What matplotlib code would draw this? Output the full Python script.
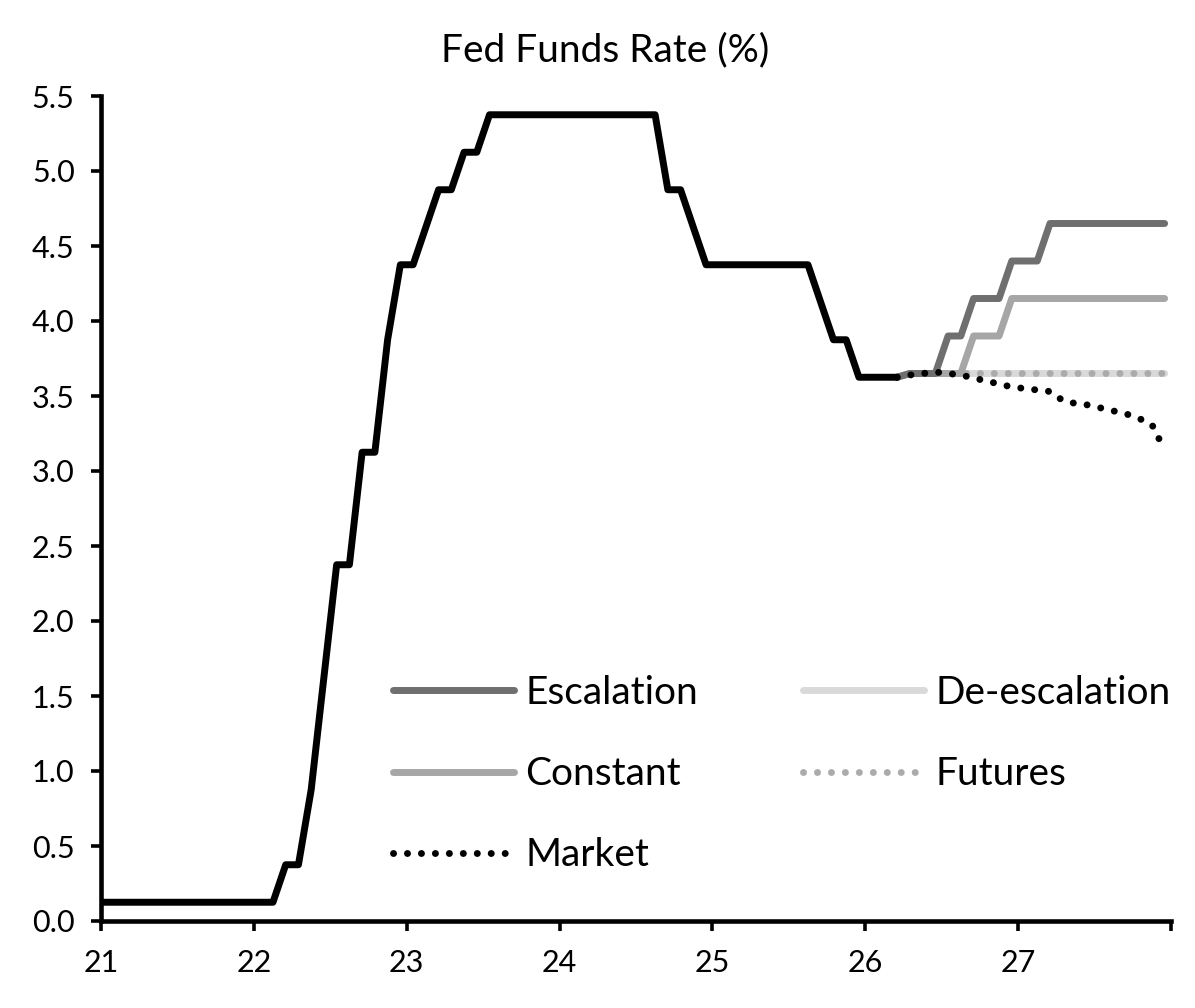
import numpy as np
import matplotlib
matplotlib.use("Agg")
import matplotlib.pyplot as plt

plt.rcParams['font.family'] = ['Lato', 'DejaVu Sans']

# monthly fed funds midpoint, Dec 2020 .. Mar 2026
HIST_START_MONTH = -1  # months after Jan 2021
hist_rate = (
    [0.125]                                   # Dec 2020
    + [0.125] * 12                            # 2021
    + [0.125, 0.125, 0.375, 0.375, 0.875, 1.625,
       2.375, 2.375, 3.125, 3.125, 3.875, 4.375]  # 2022
    + [4.375, 4.625, 4.875, 4.875, 5.125, 5.125] + [5.375] * 6  # 2023
    + [5.375] * 8 + [4.875, 4.875, 4.625, 4.375]              # 2024
    + [4.375] * 8 + [4.125, 3.875, 3.875, 3.625]              # 2025
    + [3.625, 3.625, 3.625]                                   # 2026 Q1
)

# scenarios, Mar 2026 .. Dec 2027
SCEN_START_MONTH = 62
escalation = [3.625] + [3.65] * 3 + [3.90] * 2 + [4.15] * 3 + [4.40] * 3 + [4.65] * 10
constant = [3.625] + [3.65] * 5 + [3.90] * 3 + [4.15] * 13
de_escalation = [3.625] + [3.65] * 21
futures = [3.625] + [3.65] * 21
market = [3.625, 3.64, 3.65, 3.66, 3.65, 3.64, 3.62, 3.60, 3.58, 3.56, 3.55,
          3.54, 3.53, 3.47, 3.45, 3.44, 3.42, 3.40, 3.38, 3.35, 3.31, 3.14]

y_ticks = np.arange(0, 5.51, 0.5)
x_ticks = np.arange(21, 29)
x_tick_labels = ['21', '22', '23', '24', '25', '26', '27', '']


def month_to_year(start, n):
    # mid-month position, years since 2000
    return 21 + (start + np.arange(n) + 0.5) / 12.0


hist_x = month_to_year(HIST_START_MONTH, len(hist_rate))
scen_x = month_to_year(SCEN_START_MONTH, len(market))

W, H = 1195, 1008
fig = plt.figure(figsize=(W / 100, H / 100), dpi=100)
ax = fig.add_axes([101 / W, 87 / H, 1070 / W, 825 / H])

lw = 5.0
dots = (0, (0.01, 2.0))
ax.plot(scen_x, de_escalation, color='#d9d9d9', lw=lw, solid_capstyle='round',
        solid_joinstyle='round', label='De-escalation', zorder=2)
ax.plot(scen_x, futures, color='#ababab', lw=lw, linestyle=dots,
        dash_capstyle='round', label='Futures', zorder=3)
ax.plot(scen_x, constant, color='#a6a6a6', lw=lw, solid_capstyle='round',
        solid_joinstyle='round', label='Constant', zorder=4)
ax.plot(scen_x, escalation, color='#6f6f6f', lw=lw, solid_capstyle='round',
        solid_joinstyle='round', label='Escalation', zorder=5)
ax.plot(scen_x, market, color='black', lw=lw, linestyle=dots,
        dash_capstyle='round', label='Market', zorder=6)
ax.plot(hist_x, hist_rate, color='black', lw=lw, solid_capstyle='round',
        solid_joinstyle='round', zorder=7)

ax.set_xlim(21, 28)
ax.set_ylim(0, 5.5)
ax.set_xticks(x_ticks)
ax.set_xticklabels(x_tick_labels)
ax.set_yticks(y_ticks)
ax.set_yticklabels(['{:.1f}'.format(v) for v in y_ticks])

for s in ['top', 'right']:
    ax.spines[s].set_visible(False)
for s in ['left', 'bottom']:
    ax.spines[s].set_linewidth(3.3)
ax.tick_params(axis='both', direction='out', length=7, width=2.6,
               labelsize=22, colors='black')
ax.tick_params(axis='y', pad=12)
ax.tick_params(axis='x', pad=13)

fig.text(605 / W, 1 - 50 / H, 'Fed Funds Rate (%)', ha='center', va='center',
         fontsize=28)

handles = {h.get_label(): h for h in ax.get_lines()}
leg_kw = dict(frameon=False, fontsize=28, handlelength=3.1, handletextpad=0.3,
              labelspacing=1.16, borderpad=0, borderaxespad=0, loc='upper left')
leg1 = fig.legend([handles[k] for k in ['Escalation', 'Constant', 'Market']],
                  ['Escalation', 'Constant', 'Market'],
                  bbox_to_anchor=(393 / W, 1 - 675 / H), **leg_kw)
leg2 = fig.legend([handles[k] for k in ['De-escalation', 'Futures']],
                  ['De-escalation', 'Futures'],
                  bbox_to_anchor=(803 / W, 1 - 675 / H), **leg_kw)

fig.savefig('out.png', dpi=100)
